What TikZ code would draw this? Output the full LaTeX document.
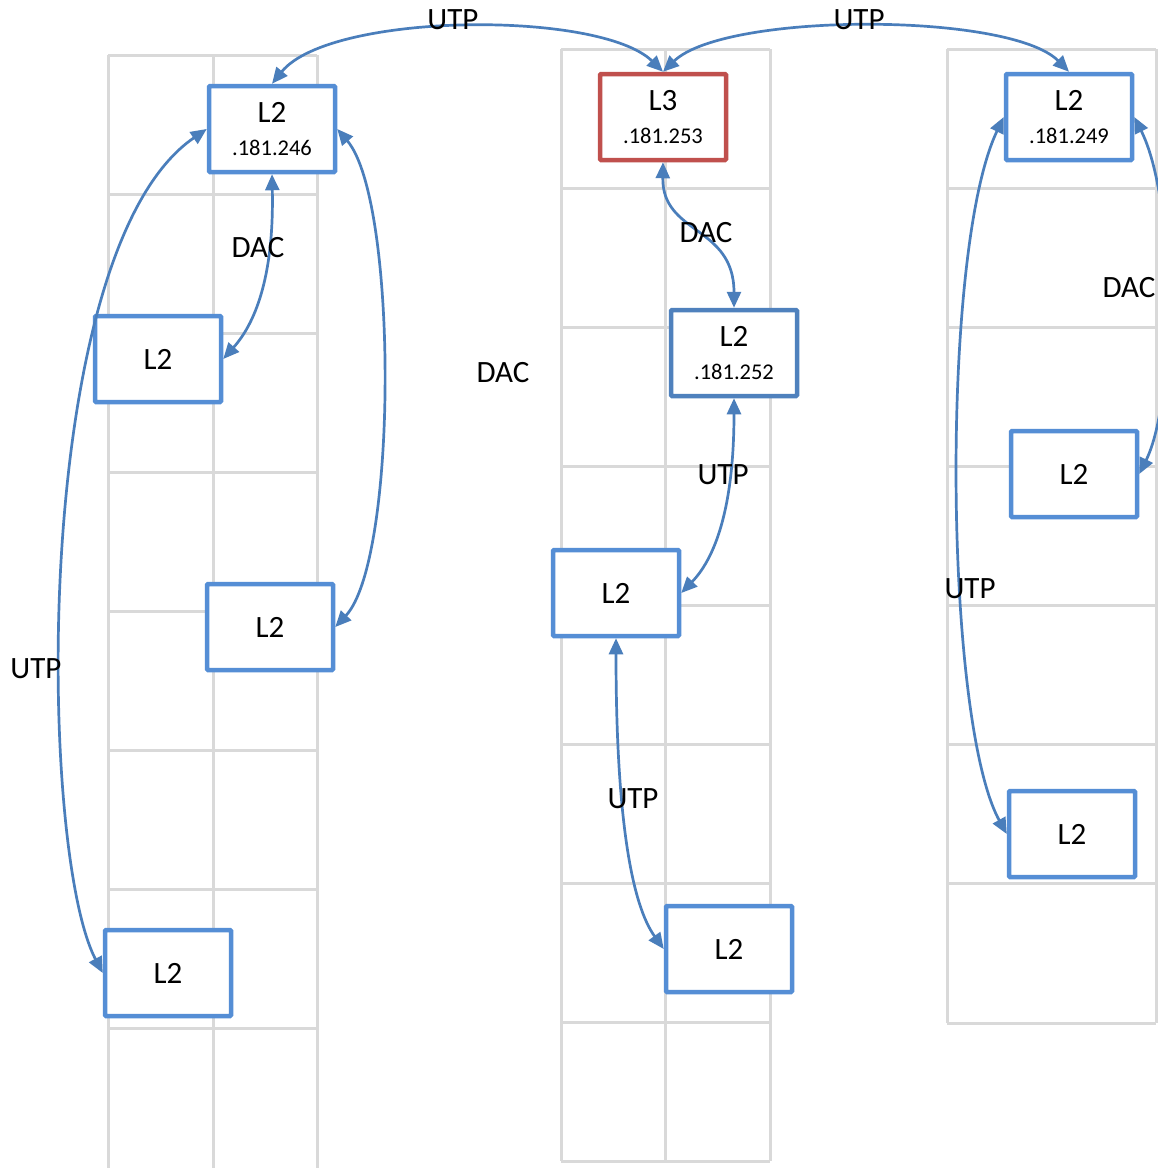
\documentclass[tikz,border=0pt]{standalone}
\usepackage{fontspec}
\setmainfont{Carlito}
\usetikzlibrary{arrows.meta}
\definecolor{gridgray}{HTML}{D9D9D9}
\definecolor{boxblue}{HTML}{558ED5}
\definecolor{boxdark}{HTML}{4F81BD}
\definecolor{boxred}{HTML}{C0504D}
\definecolor{linkblue}{HTML}{4A7EBB}
\tikzset{
  gridline/.style={draw=gridgray, line width=3pt},
  devbox/.style={draw=boxblue, line width=4.5pt, fill=white, rounded corners=1pt,
    minimum width=126pt, minimum height=86pt, inner sep=0pt, align=center,
    font=\fontsize{31}{34}\selectfont},
  darkbox/.style={devbox, draw=boxdark},
  redbox/.style={devbox, draw=boxred},
  link/.style={draw=linkblue, line width=2.7pt,
    {Triangle[length=16pt,width=14pt]}-{Triangle[length=16pt,width=14pt]}},
  lbl/.style={font=\fontsize{31}{34}\selectfont, inner sep=0pt}
}
\newcommand{\ipsub}[1]{\\[-1pt]{\fontsize{22.5}{24}\selectfont #1}}
\begin{document}
\begin{tikzpicture}[x=1pt,y=-1pt]
\useasboundingbox (0,0) rectangle (1158,1168);
\clip (0,0) rectangle (1158,1168);
\fill[white] (0,0) rectangle (1158,1168);
% left rack
\foreach \x in {108,213,317} \draw[gridline] (\x,55) -- (\x,1170);
\foreach \y in {55,194,333,472,611,750,889,1028} \draw[gridline] (108,\y) -- (317,\y);
% middle rack
\foreach \x in {561,665,770} \draw[gridline] (\x,49) -- (\x,1161);
\foreach \y in {49,188,327,466,605,744,883,1022,1161} \draw[gridline] (561,\y) -- (770,\y);
% right rack
\foreach \x in {947,1156} \draw[gridline] (\x,49) -- (\x,1023);
\foreach \y in {49,188,327,466,605,744,883,1023} \draw[gridline] (947,\y) -- (1156,\y);

% nodes
\node[devbox] (a1) at (272,129) {L2\ipsub{.181.246}};
\node[devbox] (a2) at (158,359) {L2};
\node[devbox] (a3) at (270,627) {L2};
\node[devbox] (a4) at (168,973) {L2};
\node[redbox] (b1) at (663,117) {L3\ipsub{.181.253}};
\node[darkbox] (b2) at (734,353) {L2\ipsub{.181.252}};
\node[devbox] (b3) at (616,593) {L2};
\node[devbox] (b4) at (729,949) {L2};
\node[devbox] (c1) at (1069,117) {L2\ipsub{.181.249}};
\node[devbox] (c2) at (1074,474) {L2};
\node[devbox] (c3) at (1072,834) {L2};

% links
\draw[link] (a1.north) .. controls (330,12) and (600,10) .. (b1.north);
\draw[link] (b1.north) .. controls (725,12) and (1010,12) .. (c1.north);
\draw[link] (a1.south) .. controls (274,270) and (258,320) .. (a2.east);
\draw[link] (a1.east) .. controls (398,200) and (398,560) .. (a3.east);
\draw[link] (a1.west) .. controls (30,250) and (38,850) .. (a4.west);
\draw[link] (b1.south) .. controls (662,235) and (734,225) .. (b2.north);
\draw[link] (b2.south) .. controls (734,500) and (718,555) .. (b3.east);
\draw[link] (b3.south) .. controls (616,820) and (632,905) .. (b4.west);
\draw[link] (c1.west) .. controls (940,250) and (944,720) .. (c3.west);
\draw[link] (c1.east) .. controls (1176,200) and (1176,400) .. (c2.east);

% labels
\node[lbl] (u1) at (453,20) {UTP};
\node[lbl] (u2) at (859,20) {UTP};
\node[lbl] (d1) at (258,248) {DAC};
\node[lbl] (d2) at (706,233) {DAC};
\node[lbl] (d3) at (1129,288) {DAC};
\node[lbl] (d4) at (503,373) {DAC};
\node[lbl] (u3) at (723,475) {UTP};
\node[lbl] (u4) at (970,589) {UTP};
\node[lbl] (u5) at (36,669) {UTP};
\node[lbl] (u6) at (633,799) {UTP};
\end{tikzpicture}
\end{document}
